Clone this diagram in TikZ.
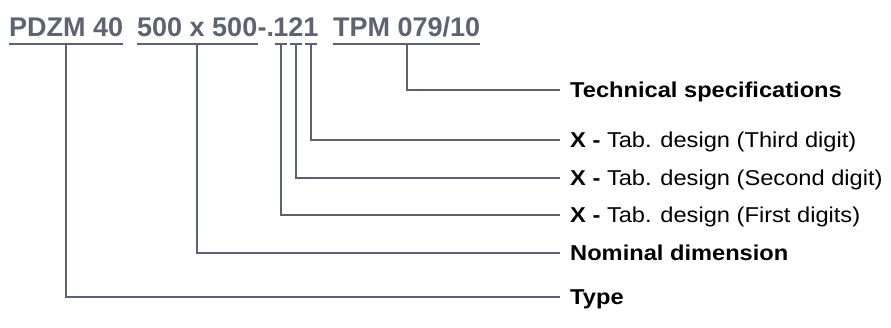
\documentclass[tikz,border=0pt]{standalone}
\usepackage{fontspec}
\setmainfont{Liberation Sans}
\newfontfamily\labelfont[FakeStretch=1.1]{Liberation Sans}
\usetikzlibrary{positioning}
\definecolor{codegray}{RGB}{94,99,113}
\definecolor{linegray}{RGB}{92,98,114}

\begin{document}
\begin{tikzpicture}[x=1pt,y=-1pt,
		code/.style={inner sep=0pt,anchor=base west,text=codegray,text depth=0pt,font=\fontsize{27}{30}\selectfont\bfseries},
		lab/.style={anchor=west,inner xsep=10pt,inner ysep=0pt,text height=15.4pt,text depth=0pt,font=\labelfont\fontsize{21.5}{25}\selectfont},
		conn/.style={draw=linegray,line width=2.2pt}]
			\useasboundingbox (0,0) rectangle (891,327);
			\node[code] (pdzm) at (9,36.5) {PDZM 40};
			\node[code] (size) at (137,36.5) {500 x 500};
			\node[code] (dot) at (size.base east) {-.};
			\node[code,anchor=base] (da) at (281,36.5) {1};
			\node[code,anchor=base] (db) at (296,36.5) {2};
			\node[code,anchor=base] (dc) at (311,36.5) {1};
			\node[code] (tpm) at (333,36.5) {TPM 079/10};
			\node[lab] (tech) at (560,90) {\bfseries Technical specifications};
			\node[lab] (thrd) at (560,140) {\textbf{X -} Tab. design (Third digit)};
			\node[lab] (scnd) at (560,178) {\textbf{X -} Tab. design (Second digit)};
			\node[lab] (frst) at (560,215) {\textbf{X -} Tab. design (First digits)};
			\node[lab] (nom) at (560,253) {\bfseries Nominal dimension};
			\node[lab] (typ) at (560,297) {\bfseries Type};
			\foreach \n in {pdzm,size,tpm}
				\draw[conn] ([yshift=-7.5pt]\n.south west) -- ([yshift=-7.5pt]\n.south east);
			\foreach \n in {da,db,dc}
				\draw[conn,shorten <=2pt,shorten >=2pt] ([yshift=-7.5pt]\n.south west) -- ([yshift=-7.5pt]\n.south east);
			\draw[conn] ([yshift=-7.5pt]pdzm.south) |- (typ.west);
			\draw[conn] ([yshift=-7.5pt]size.south) |- (nom.west);
			\draw[conn] ([yshift=-7.5pt]da.south) |- (frst.west);
			\draw[conn] ([yshift=-7.5pt]db.south) |- (scnd.west);
			\draw[conn] ([yshift=-7.5pt]dc.south) |- (thrd.west);
			\draw[conn] ([yshift=-7.5pt]tpm.south) |- (tech.west);
		\end{tikzpicture}
\end{document}
